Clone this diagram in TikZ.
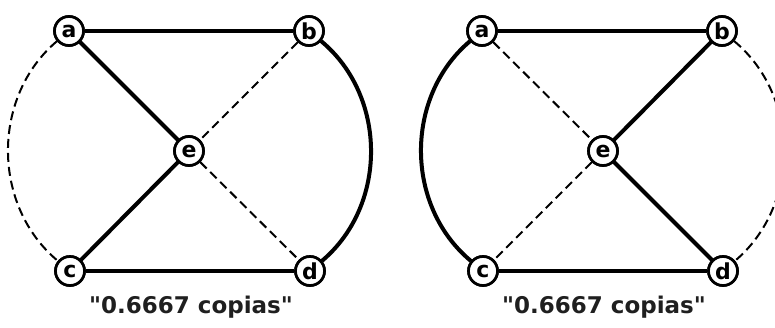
\documentclass[tikz,border=0pt]{standalone}
\usepackage{fontspec}
\setmainfont{DejaVu Sans}[Ligatures=TeXOff]
\begin{document}
\begin{tikzpicture}[x=1pt,y=-1pt,
  vtx/.style={circle,draw,line width=2.7pt,fill=white,minimum size=29pt,inner sep=0pt,font=\fontsize{22}{22}\selectfont\bfseries},
  solid edge/.style={line width=4pt},
  dash edge/.style={line width=2pt,dash pattern=on 9pt off 5pt},
  caption/.style={anchor=base,font=\fontsize{23}{23}\selectfont\bfseries,text=black!88}]
\useasboundingbox (0,0) rectangle (775,327);
\clip (0,0) rectangle (775,327);
% left panel
\node[vtx] (a1) at (69,31) {a};
\node[vtx] (b1) at (309,31) {b};
\node[vtx] (e1) at (189,151) {e};
\node[vtx] (c1) at (70,271) {c};
\node[vtx] (d1) at (310,271) {d};
\draw[solid edge] (a1) -- (b1);
\draw[solid edge] (a1) -- (e1);
\draw[dash edge] (b1) -- (e1);
\draw[solid edge] (e1) -- (c1);
\draw[dash edge] (e1) -- (d1);
\draw[solid edge] (c1) -- (d1);
\draw[dash edge] (a1) to[bend right=50] (c1);
\draw[solid edge] (b1) to[bend left=50] (d1);
\node[caption] (t1) at (191,313) {"0.6667 copias"};
% right panel
\node[vtx] (a2) at (482,31) {a};
\node[vtx] (b2) at (722,31) {b};
\node[vtx] (e2) at (603,151) {e};
\node[vtx] (c2) at (483,271) {c};
\node[vtx] (d2) at (723,271) {d};
\draw[solid edge] (a2) -- (b2);
\draw[dash edge] (a2) -- (e2);
\draw[solid edge] (b2) -- (e2);
\draw[dash edge] (e2) -- (c2);
\draw[solid edge] (e2) -- (d2);
\draw[solid edge] (c2) -- (d2);
\draw[solid edge] (a2) to[bend right=50] (c2);
\draw[dash edge] (b2) to[bend left=50] (d2);
\node[caption] (t2) at (604,313) {"0.6667 copias"};
% redraw nodes on top
\foreach \l/\p in {a/{(69,31)},b/{(309,31)},e/{(189,151)},c/{(70,271)},d/{(310,271)},a/{(482,31)},b/{(722,31)},e/{(603,151)},c/{(483,271)},d/{(723,271)}}
  \node[vtx] at \p {\l};
\end{tikzpicture}
\end{document}
